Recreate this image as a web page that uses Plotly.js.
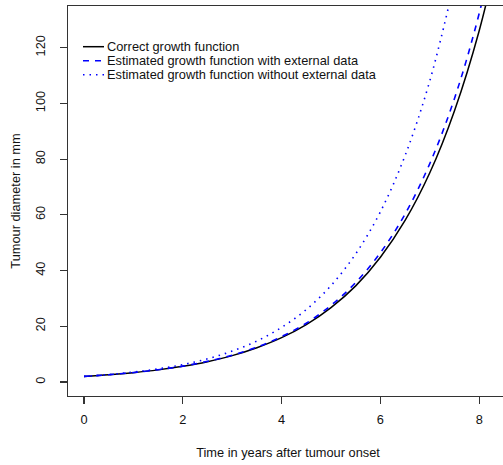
<!DOCTYPE html>
<html>
<head>
<meta charset="utf-8">
<script src="https://cdn.plot.ly/plotly-3.0.1.min.js"></script>
<style>
html, body { margin: 0; padding: 0; overflow: hidden; background: #fff; }
#chart { width: 530px; height: 465px; }
</style>
</head>
<body>
<div id="chart"></div>
<script>
// Time in years after tumour onset
var years = [0, 0.5, 1, 1.5, 2, 2.5, 3, 3.5, 4, 4.5, 5, 5.5, 6, 6.5, 7, 7.5, 8, 8.5];
// Correct growth function (mm)
var correctGrowth = [2.00, 2.59, 3.36, 4.35, 5.64, 7.30, 9.46, 12.3, 15.9, 20.6, 26.7, 34.5, 44.8, 58.0, 75.1, 97.4, 126.1, 163.4];
// Estimated growth function with external data (mm)
var estWithExternal = [2.00, 2.60, 3.38, 4.39, 5.70, 7.41, 9.63, 12.5, 16.3, 21.1, 27.5, 35.7, 46.4, 60.3, 78.4, 101.8, 132.3, 172.0];
// Estimated growth function without external data (mm)
var yearsNoExt = [0, 0.5, 1, 1.5, 2, 2.5, 3, 3.5, 4, 4.5, 5, 5.5, 6, 6.5, 7, 7.5];
var estWithoutExternal = [2.00, 2.66, 3.54, 4.70, 6.25, 8.32, 11.1, 14.7, 19.6, 26.0, 34.6, 46.0, 61.1, 81.3, 108.1, 143.8];

var seriesNames = [
  "Correct growth function",
  "Estimated growth function with external data",
  "Estimated growth function without external data"
];
var xTicks = [0, 2, 4, 6, 8];
var yTicks = [0, 20, 40, 60, 80, 100, 120];

var FONT = "Liberation Sans, Arial, Helvetica, sans-serif";
var FS = 12.8;
var W = 530, H = 465;
var M = {l: 68, r: 22, t: 6, b: 69};
var plotW = W - M.l - M.r, plotH = H - M.t - M.b;
function px2paperX(px) { return (px - M.l) / plotW; }
function px2paperY(py) { return (H - M.b - py) / plotH; }

var styles = [
  {color: "#000000", width: 1.5, dash: "solid"},
  {color: "#0000FF", width: 1.6, dash: "6px,6px"},
  {color: "#0000FF", width: 1.6, dash: "1.5px,5px"}
];

var traces = [
  {x: years, y: correctGrowth, name: seriesNames[0], mode: "lines",
   line: {color: styles[0].color, width: styles[0].width, dash: styles[0].dash, shape: "spline"}},
  {x: years, y: estWithExternal, name: seriesNames[1], mode: "lines",
   line: {color: styles[1].color, width: styles[1].width, dash: styles[1].dash, shape: "spline"}},
  {x: yearsNoExt, y: estWithoutExternal, name: seriesNames[2], mode: "lines",
   line: {color: styles[2].color, width: styles[2].width, dash: styles[2].dash, shape: "spline"}}
];

// legend (R style, no box) built from the series names
var shapes = [], annotations = [];
var rowY = [46.7, 60.7, 74.7];
for (var i = 0; i < seriesNames.length; i++) {
  shapes.push({type: "line", xref: "paper", yref: "paper",
    x0: px2paperX(83), x1: px2paperX(104), y0: px2paperY(rowY[i]), y1: px2paperY(rowY[i]),
    line: {color: styles[i].color, width: styles[i].width, dash: styles[i].dash}});
  annotations.push({xref: "paper", yref: "paper", x: px2paperX(105), y: px2paperY(rowY[i]),
    xanchor: "left", yanchor: "middle", text: seriesNames[i], showarrow: false,
    font: {family: FONT, size: FS, color: "#111"}});
}

var axisCommon = {
  showgrid: false, zeroline: false, showline: true, mirror: true,
  linecolor: "#333", linewidth: 1.2,
  ticks: "outside", ticklen: 7, tickwidth: 1.2, tickcolor: "#333",
  tickfont: {family: FONT, size: FS, color: "#111"}
};

var layout = {
  width: W, height: H,
  margin: M,
  paper_bgcolor: "#fff", plot_bgcolor: "#fff",
  showlegend: false,
  font: {family: FONT, size: FS, color: "#111"},
  xaxis: Object.assign({}, axisCommon, {
    range: [-0.324, 8.583], tickvals: xTicks, ticktext: xTicks.map(String),
    ticklabelstandoff: 4,
    title: {text: "Time in years after tumour onset", font: {family: FONT, size: FS, color: "#111"}, standoff: 22}
  }),
  yaxis: Object.assign({}, axisCommon, {
    range: [-5.03, 134.96], tickvals: yTicks, ticktext: yTicks.map(String), tickangle: -90,
    ticklabelstandoff: 10,
    title: {text: "Tumour diameter in mm", font: {family: FONT, size: FS, color: "#111"}, standoff: 9}
  }),
  shapes: shapes,
  annotations: annotations
};

Plotly.newPlot("chart", traces, layout, {displayModeBar: false, staticPlot: true});
</script>
</body>
</html>
